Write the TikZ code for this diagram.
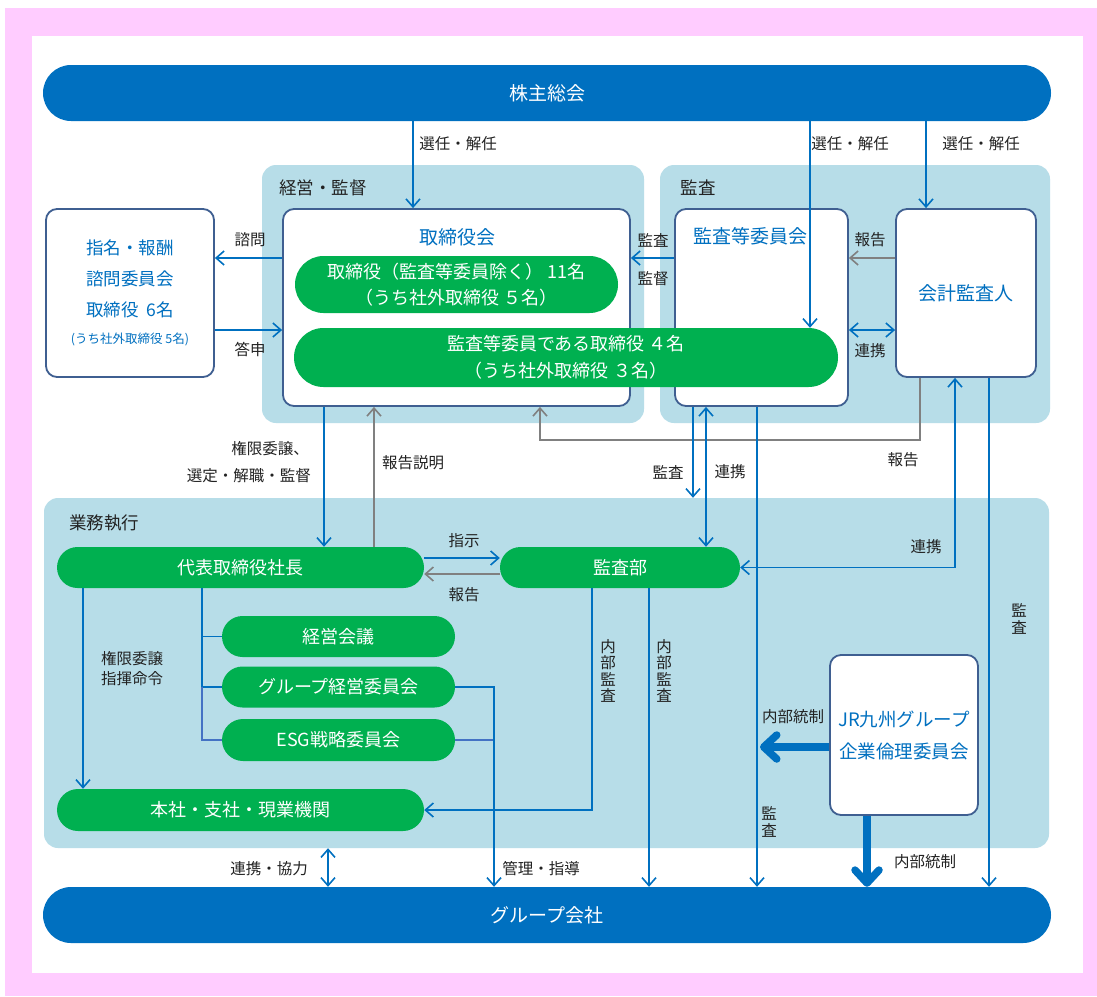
\documentclass[tikz,border=0pt]{standalone}
\usepackage{fontspec}
\setmainfont{Noto Sans CJK JP}
\usepackage{xcolor}
\usetikzlibrary{arrows.meta, positioning, shapes.misc}

\definecolor{jrblue}{HTML}{0070C0}
\definecolor{jrgreen}{HTML}{00B050}
\definecolor{zone}{HTML}{B7DDE8}
\definecolor{frame}{HTML}{3F5F91}
\definecolor{pinkbg}{HTML}{FFCCFF}
\definecolor{repgray}{HTML}{808080}
\definecolor{treeblue}{HTML}{4472C4}
\definecolor{ink}{HTML}{222222}

\begin{document}
\begin{tikzpicture}[x=1pt, y=-1pt,
    bar/.style={rounded rectangle, fill=jrblue, text=white, font=\fontsize{19}{21}\selectfont, minimum width=1008pt, minimum height=56pt, inner sep=0pt},
    zonebox/.style={rectangle, rounded corners=14pt, fill=zone, inner sep=0pt},
    wbox/.style={rectangle, rounded corners=11pt, draw=frame, line width=1.8pt, fill=white, inner sep=0pt},
    pill/.style={rounded rectangle, fill=jrgreen, text=white, font=\fontsize{18}{26.5}\selectfont, align=center, inner sep=0pt},
    title/.style={text=jrblue, font=\fontsize{19}{21}\selectfont, align=center, inner sep=0pt},
    lbl/.style={text=ink, font=\fontsize{15.5}{17}\selectfont, inner sep=0pt},
    vlbl/.style={text=ink, font=\fontsize{15.5}{16.5}\selectfont, align=center, inner sep=0pt},
    barr/.style={draw=jrblue, line width=1.6pt, -{Straight Barb[length=8pt,width=14pt]}},
    dbarr/.style={draw=jrblue, line width=1.6pt, {Straight Barb[length=8pt,width=14pt]}-{Straight Barb[length=8pt,width=14pt]}},
    garr/.style={draw=repgray, line width=1.6pt, -{Straight Barb[length=8pt,width=14pt]}},
    tline/.style={draw=jrblue, line width=1.6pt},
    tline2/.style={draw=treeblue, line width=1.6pt},
    bigarr/.style={draw=jrblue, line width=7.5pt, -{Straight Barb[length=13pt,width=24pt,round]}}]

    % frame
    \useasboundingbox (0,0) rectangle (1097,996);
    \fill[pinkbg] (5,8) rectangle (1097,996);
    \fill[white] (32,36) rectangle (1083,973);

    % zones
    \node[zonebox, minimum width=382pt, minimum height=258pt] (zkan) at (453,294) {};
    \node[zonebox, minimum width=390pt, minimum height=258pt] (zaud) at (855,294) {};
    \node[zonebox, minimum width=1005pt, minimum height=350pt] (zgyo) at (546.5,673) {};
    \node[lbl, font=\fontsize{17.5}{19}\selectfont] (tkan) at (323,188) {経営・監督};
    \node[lbl, font=\fontsize{17.5}{19}\selectfont] (taud) at (698,188) {監査};
    \node[lbl, font=\fontsize{17.5}{19}\selectfont] (tgyo) at (104,523) {業務執行};

    % bars
    \node[bar] (sh) at (547,93) {株主総会};
    \node[bar] (gc) at (547,915) {グループ会社};

    % boxes
    \node[wbox, minimum width=168pt, minimum height=168pt, text=jrblue, font=\fontsize{17.5}{31}\selectfont, align=center] (nom) at (130,293)
        {指名・報酬\\諮問委員会\\取締役\ \ 6名\\[-4pt]{\fontsize{12.5}{14}\selectfont (うち社外取締役 5名)}};
    \node[wbox, minimum width=347pt, minimum height=197pt] (bd) at (456.5,307.5) {};
    \node[wbox, minimum width=173pt, minimum height=197pt] (ac) at (761.5,307.5) {};
    \node[wbox, minimum width=140pt, minimum height=168pt, text=jrblue, font=\fontsize{19}{21}\selectfont] (aud) at (966,293) {会計監査人};
    \node[wbox, minimum width=148pt, minimum height=160pt, text=jrblue, font=\fontsize{18.5}{32}\selectfont, align=center] (eth) at (904,735)
        {JR九州グループ\\企業倫理委員会};
    \node[title] (tbd) at (457,237) {取締役会};
    \node[title] (tac) at (750,236) {監査等委員会};

    % green pills
    \node[pill, minimum width=323pt, minimum height=57pt] (dir1) at (456.5,284.5)
        {取締役（監査等委員除く）\ 11名\\（うち社外取締役\ ５名）};
    \node[pill, minimum width=544pt, minimum height=59pt] (dir2) at (566,357.5)
        {監査等委員である取締役\ ４名\\（うち社外取締役\ ３名）};
    \node[pill, minimum width=367pt, minimum height=41pt] (pres) at (240.5,567.5) {代表取締役社長};
    \node[pill, minimum width=240pt, minimum height=41pt] (iad) at (620,567.5) {監査部};
    \node[pill, minimum width=233pt, minimum height=41pt] (mtg) at (338.5,636.5) {経営会議};
    \node[pill, minimum width=233pt, minimum height=41pt] (gmc) at (338.5,687) {グループ経営委員会};
    \node[pill, minimum width=233pt, minimum height=42pt] (esg) at (338.5,740) {ESG戦略委員会};
    \node[pill, minimum width=367pt, minimum height=42pt] (hq) at (240.5,810) {本社・支社・現業機関};

    % lanes
    \coordinate (elect1) at (413,0);
    \coordinate (elect2) at (810,0);
    \coordinate (elect3) at (926,0);
    \coordinate (delegx) at (324,0);
    \coordinate (explx) at (374,0);
    \coordinate (rep1x) at (920,0);
    \coordinate (rep2x) at (540,0);
    \coordinate (aud1x) at (693,0);
    \coordinate (coop1x) at (706,0);
    \coordinate (aud2x) at (757,0);
    \coordinate (aud3x) at (989,0);
    \coordinate (coop2x) at (955,0);
    \coordinate (cmdx) at (83,0);
    \coordinate (treex) at (202,0);
    \coordinate (mgmtx) at (494,0);
    \coordinate (int1x) at (592,0);
    \coordinate (int2x) at (649,0);
    \coordinate (ctrlx) at (867,0);
    \coordinate (ctrlend) at (760,0);
    \coordinate (coop3x) at (328,0);
    \coordinate (consulty) at (0,258);
    \coordinate (replyy) at (0,330);
    \coordinate (rep1y) at (0,440);
    \coordinate (ordery) at (0,558);
    \coordinate (rep3y) at (0,574);
    \coordinate (ctrly) at (0,747);

    % shareholders
    \draw[barr] (sh.south -| elect1) -- (bd.north -| elect1);
    \draw[barr] (sh.south -| elect2) -- (dir2.north -| elect2);
    \draw[barr] (sh.south -| elect3) -- (aud.north -| elect3);

    % board and audit
    \draw[barr] (bd.west |- consulty) -- (nom.east |- consulty);
    \draw[barr] (nom.east |- replyy) -- (bd.west |- replyy);
    \draw[barr] (ac.west |- consulty) -- (bd.east |- consulty);
    \draw[garr] (aud.west |- consulty) -- (ac.east |- consulty);
    \draw[dbarr] (ac.east |- replyy) -- (aud.west |- replyy);
    \draw[garr] (aud.south -| rep1x) |- (rep1y -| rep2x) -- (bd.south -| rep2x);
    \draw[barr] (bd.south -| delegx) -- (pres.north -| delegx);
    \draw[garr] (pres.north -| explx) -- (bd.south -| explx);
    \draw[barr] (ac.south -| aud1x) -- (zgyo.north -| aud1x);
    \draw[dbarr] (ac.south -| coop1x) -- (iad.north -| coop1x);
    \draw[barr] (ac.south -| aud2x) -- (gc.north -| aud2x);
    \draw[barr] (aud.south -| aud3x) -- (gc.north -| aud3x);
    \draw[dbarr] (iad.east) -| (aud.south -| coop2x);

    % execution
    \draw[barr] (pres.east |- ordery) -- (iad.west |- ordery);
    \draw[garr] (iad.west |- rep3y) -- (pres.east |- rep3y);
    \draw[barr] (pres.south -| cmdx) -- (hq.north -| cmdx);
    \draw[tline] (pres.south -| treex) |- (mtg.west);
    \draw[tline] (pres.south -| treex) |- (gmc.west);
    \draw[tline2] (gmc.west -| treex) |- (esg.west);
    \draw[tline2] (esg.east) -| (gmc.east -| mgmtx);
    \draw[barr] (gmc.east) -| (gc.north -| mgmtx);
    \draw[barr] (iad.south -| int1x) |- (hq.east);
    \draw[barr] (iad.south -| int2x) -- (gc.north -| int2x);
    \draw[bigarr] (eth.west |- ctrly) -- (ctrlend |- ctrly);
    \draw[bigarr] (eth.south -| ctrlx) -- (gc.north -| ctrlx);
    \draw[dbarr] (zgyo.south -| coop3x) -- (gc.north -| coop3x);

    % labels
    \node[lbl] (lel1) at (458,144) {選任・解任};
    \node[lbl] (lel2) at (850,144) {選任・解任};
    \node[lbl] (lel3) at (981,144) {選任・解任};
    \node[lbl] (lcons) at (250,240) {諮問};
    \node[lbl] (lrepl) at (250,349) {答申};
    \node[lbl] (laud1) at (653,240) {監査};
    \node[lbl] (lsup) at (653,279) {監督};
    \node[lbl] (lrep1) at (870,240) {報告};
    \node[lbl] (lcoop1) at (870,351) {連携};
    \node[lbl, anchor=east] (ldel1) at (309,449) {権限委譲、};
    \node[lbl, anchor=east] (ldel2) at (311,476) {選定・解職・監督};
    \node[lbl] (lexpl) at (413,463) {報告説明};
    \node[lbl] (laud2) at (668,472) {監査};
    \node[lbl] (lcoop2) at (730,472) {連携};
    \node[lbl] (lrep2) at (903,460) {報告};
    \node[lbl] (lord) at (464,541) {指示};
    \node[lbl] (lrep3) at (464,595) {報告};
    \node[lbl] (lcoop3) at (926,547) {連携};
    \node[lbl, align=center, font=\fontsize{15.5}{20}\selectfont] (lcmd) at (132,669) {権限委譲\\指揮命令};
    \node[vlbl] (lint1) at (608,671) {内\\部\\監\\査};
    \node[vlbl] (lint2) at (664,671) {内\\部\\監\\査};
    \node[vlbl] (laud3) at (1019,619) {監\\査};
    \node[vlbl] (laud4) at (769,822) {監\\査};
    \node[lbl] (lctrl1) at (793,717) {内部統制};
    \node[lbl] (lctrl2) at (925,862) {内部統制};
    \node[lbl] (lcoop4) at (269,869) {連携・協力};
    \node[lbl] (lmgmt) at (541,869) {管理・指導};
\end{tikzpicture}
\end{document}
